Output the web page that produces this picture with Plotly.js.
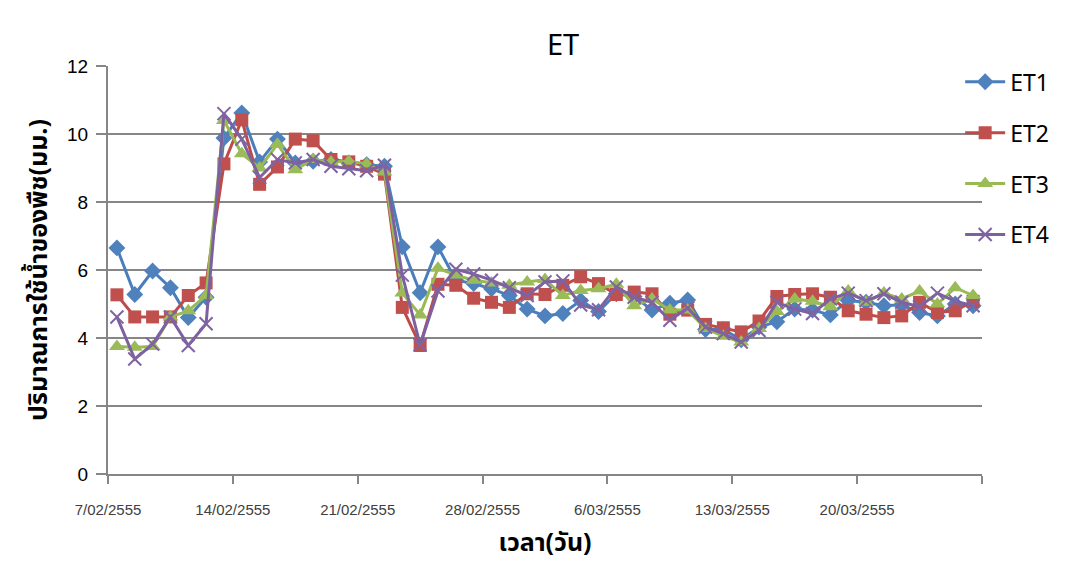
<!DOCTYPE html>
<html>
<head>
<meta charset="utf-8">
<script src="https://cdn.plot.ly/plotly-3.0.1.min.js"></script>
<style>
  html, body { margin: 0; padding: 0; background: #ffffff; }
  #chart { width: 1089px; height: 575px; }
</style>
</head>
<body>
<div id="chart"></div>
<script>
// Dates (Gregorian equivalent of Thai B.E. 2555)
var dates = [
  "2012-02-07","2012-02-08","2012-02-09","2012-02-10","2012-02-11","2012-02-12","2012-02-13",
  "2012-02-14","2012-02-15","2012-02-16","2012-02-17","2012-02-18","2012-02-19","2012-02-20",
  "2012-02-21","2012-02-22","2012-02-23","2012-02-24","2012-02-25","2012-02-26","2012-02-27",
  "2012-02-28","2012-02-29","2012-03-01","2012-03-02","2012-03-03","2012-03-04","2012-03-05",
  "2012-03-06","2012-03-07","2012-03-08","2012-03-09","2012-03-10","2012-03-11","2012-03-12",
  "2012-03-13","2012-03-14","2012-03-15","2012-03-16","2012-03-17","2012-03-18","2012-03-19",
  "2012-03-20","2012-03-21","2012-03-22","2012-03-23","2012-03-24","2012-03-25","2012-03-26"
];

var et1 = [6.65,5.28,5.97,5.48,4.6,5.2,9.88,10.62,9.18,9.85,9.15,9.2,9.25,9.15,9.1,9.05,6.68,5.33,6.68,5.7,5.6,5.45,5.25,4.85,4.65,4.72,5.1,4.78,5.3,5.22,4.82,5.02,5.12,4.25,4.25,3.95,4.32,4.48,4.85,4.82,4.68,5.1,5.05,4.95,4.98,4.75,4.65,5.0,4.95];
var et2 = [5.27,4.62,4.62,4.62,5.25,5.62,9.12,10.42,8.52,9.03,9.85,9.8,9.25,9.18,9.05,8.82,4.9,3.78,5.58,5.55,5.17,5.05,4.9,5.3,5.28,5.55,5.8,5.6,5.28,5.35,5.3,4.7,4.82,4.4,4.3,4.18,4.5,5.22,5.28,5.3,5.2,4.8,4.7,4.6,4.65,5.05,4.75,4.8,5.08];
var et3 = [3.75,3.73,3.75,4.62,4.8,5.25,10.4,9.42,9.0,9.7,8.95,9.25,9.18,9.2,9.12,8.88,5.32,4.68,6.05,5.85,5.7,5.62,5.55,5.65,5.72,5.25,5.4,5.45,5.58,4.95,5.15,4.82,4.82,4.28,4.05,3.88,4.28,4.78,5.15,5.08,4.92,5.38,5.05,5.32,5.15,5.38,5.0,5.48,5.25];
var et4 = [4.62,3.38,3.82,4.62,3.78,4.42,10.6,9.85,8.72,9.25,9.15,9.25,9.05,8.98,8.92,9.08,5.85,3.8,5.38,6.02,5.88,5.7,5.48,5.25,5.65,5.68,4.97,4.83,5.5,5.2,5.05,4.52,4.88,4.32,4.13,3.88,4.22,5.05,4.85,4.72,5.15,5.32,5.1,5.3,5.05,4.92,5.32,5.08,4.95];

var seriesNames = ["ET1","ET2","ET3","ET4"];
var tickDates = ["2012-02-07","2012-02-14","2012-02-21","2012-02-28","2012-03-06","2012-03-13","2012-03-20","2012-03-27"];
var tickLabels = ["7/02/2555","14/02/2555","21/02/2555","28/02/2555","6/03/2555","13/03/2555","20/03/2555",""];

var thaiFont = "Tahoma, 'Noto Sans Thai', 'Noto Sans Thai UI', 'Loma', 'Garuda', 'Noto Sans', sans-serif";
var DAY = 86400000;

function mk(name, y, lineColor, markerColor, symbol, size, mline) {
  return {
    type: "scatter", mode: "lines+markers", name: name, x: dates, y: y,
    xperiod: DAY, xperiodalignment: "middle",
    legendgroup: name,
    line: { color: lineColor, width: 3 },
    marker: { symbol: symbol, size: size, color: markerColor, line: mline }
  };
}

var traces = [
  mk(seriesNames[0], et1, "#4A7EBB", "#4F81BD", "diamond", 13, {width: 0}),
  mk(seriesNames[1], et2, "#BE4B48", "#C0504D", "square", 13, {width: 0}),
  mk(seriesNames[2], et3, "#98B954", "#9BBB59", "triangle-up", 14, {width: 0}),
  mk(seriesNames[3], et4, "#7D60A0", "#8064A2", "x-thin-open", 13, {width: 2, color: "#8064A2"})
];

var layout = {
  width: 1089, height: 575,
  margin: { l: 108, r: 107, t: 66, b: 101 },
  paper_bgcolor: "#ffffff", plot_bgcolor: "#ffffff",
  font: { family: "'Liberation Sans', Arial, sans-serif", color: "#000000" },
  title: {
    text: "ET", x: 0.517, xanchor: "center", y: 0.922, yanchor: "middle", yref: "container",
    font: { family: "'Noto Sans', sans-serif", size: 29, color: "#000000" }
  },
  xaxis: {
    type: "date",
    range: ["2012-02-07", "2012-03-27"],
    tickmode: "array", tickvals: tickDates, ticktext: tickLabels,
    showgrid: false, zeroline: false,
    showline: true, linecolor: "#868686", linewidth: 2,
    ticks: "outside", ticklen: 8, tickwidth: 2, tickcolor: "#868686",
    tickfont: { size: 15, color: "#404040", family: "'Liberation Sans', Arial, sans-serif" },
    ticklabelstandoff: 13,
    title: { text: "<b>เวลา(วัน)</b>", font: { family: thaiFont, size: 25, color: "#000000" }, standoff: 16 }
  },
  yaxis: {
    range: [0, 12], dtick: 2, tick0: 0,
    showgrid: true, gridcolor: "#868686", gridwidth: 2,
    zeroline: false,
    showline: true, linecolor: "#868686", linewidth: 2,
    ticks: "outside", ticklen: 10, tickwidth: 2, tickcolor: "#868686",
    tickfont: { size: 19, color: "#000000", family: "'Liberation Sans', Arial, sans-serif" },
    ticklabelstandoff: 4,
    title: { text: "<b>ปริมาณการใช้น้ำของพืช(มม.)</b>", font: { family: thaiFont, size: 25, color: "#000000" }, standoff: 12 }
  },
  showlegend: true,
  legend: {
    x: 0.975, xanchor: "left", y: 1.014, yanchor: "top",
    bgcolor: "rgba(0,0,0,0)", borderwidth: 0,
    font: { family: "'Noto Sans', sans-serif", size: 23, color: "#000000" },
    tracegroupgap: 18, itemwidth: 40
  }
};

Plotly.newPlot("chart", traces, layout, { displayModeBar: false, staticPlot: true });
</script>
</body>
</html>
